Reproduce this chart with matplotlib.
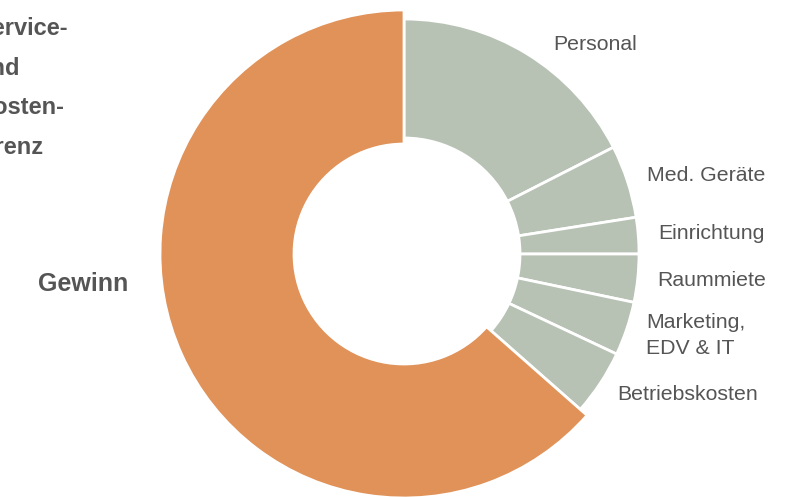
import matplotlib.pyplot as plt

# Kostenstruktur einer Praxis (Anteile in %)
kategorien = ["Personal", "Med. Geräte", "Einrichtung", "Raummiete",
              "Marketing,\nEDV & IT", "Betriebskosten", "Gewinn"]
anteile = [17.5, 5.0, 2.5, 3.3, 3.7, 4.5, 63.5]
farben = ["#b7c2b4"] * 6 + ["#e09258"]

textfarbe = "#555555"

fig = plt.figure(figsize=(7.98, 4.97), dpi=100)
ax = fig.add_axes([0, 0, 1, 1])

# 1 Dateneinheit = 1 Pixel, Mittelpunkt bei (404, 254) im Bild
wedges, texts = ax.pie(
    anteile,
    labels=kategorien,
    colors=farben,
    startangle=90,
    counterclock=False,
    radius=235,
    labeldistance=255 / 235,
    wedgeprops=dict(width=119, edgecolor="white", linewidth=2),
    textprops=dict(color=textfarbe, fontsize=15.3, family="Liberation Sans"),
)

# Gewinn-Segment etwas breiter als die Kostensegmente
wedges[-1].set_radius(244)
wedges[-1].set_width(134)

# Beschriftungen anpassen
texts[0].set_position((149, 210))
texts[4].set_linespacing(1.46)
texts[-1].set_position((-276, -30))
texts[-1].set_horizontalalignment("right")
texts[-1].set_fontweight("bold")
texts[-1].set_fontsize(18)

# abgeschnittener Textblock oben links
ax.text(-428, 166, "Service-\nund\nKosten-\nGrenz", ha="left", va="center",
        fontsize=17, fontweight="bold", color=textfarbe,
        family="Liberation Sans", linespacing=1.93)

ax.set_xlim(-404, 394)
ax.set_ylim(-243, 254)
ax.set_aspect("equal")
ax.axis("off")

plt.savefig("out.png", dpi=100)
